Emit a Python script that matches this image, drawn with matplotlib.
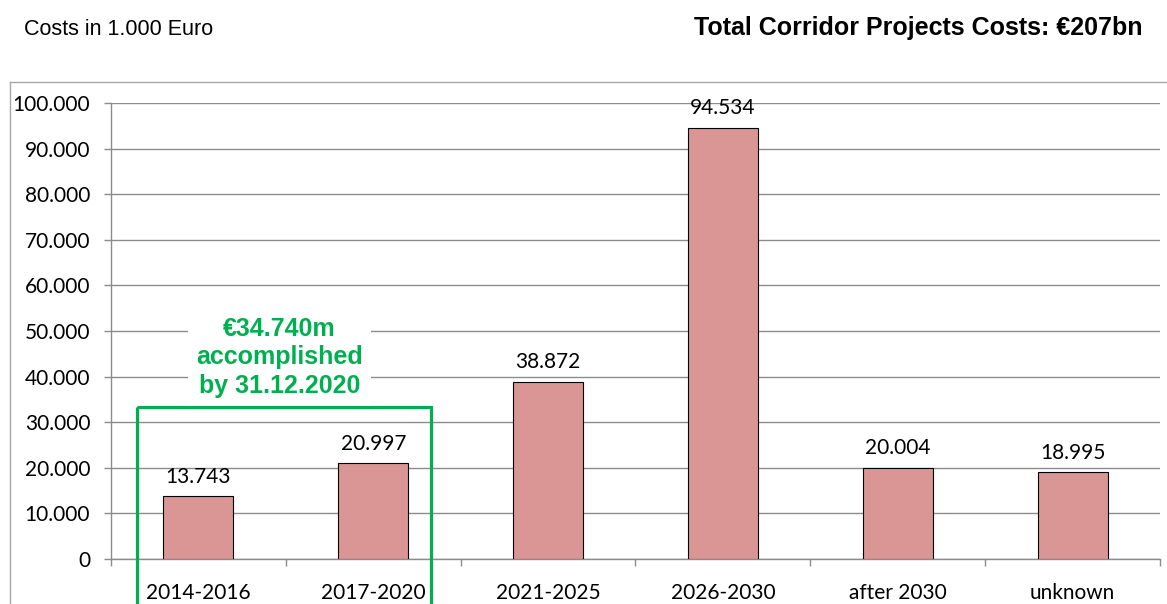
import numpy as np
import matplotlib.pyplot as plt
from matplotlib.patches import Rectangle
from matplotlib.lines import Line2D

# ── data ──────────────────────────────────────────
periods = ['2014-2016', '2017-2020', '2021-2025', '2026-2030', 'after 2030', 'unknown']
costs = [13743, 20997, 38872, 94534, 20004, 18995]
cost_labels = ['13.743', '20.997', '38.872', '94.534', '20.004', '18.995']
y_ticks = [0, 10000, 20000, 30000, 40000, 50000, 60000, 70000, 80000, 90000, 100000]
y_tick_labels = ['0', '10.000', '20.000', '30.000', '40.000', '50.000',
                 '60.000', '70.000', '80.000', '90.000', '100.000']

LABEL_FONT = ['Lato', 'DejaVu Sans']
HEAD_FONT = ['Liberation Sans', 'DejaVu Sans']
GRID = '#8c8c8c'
GREEN = '#00b050'

fig = plt.figure(figsize=(11.67, 6.04), dpi=100)
ax = fig.add_axes([111 / 1167, 1 - 559 / 604, (1160 - 111) / 1167, (559 - 103) / 604])

x = np.arange(len(periods))
ax.bar(x, costs, width=0.4, color='#d99694', edgecolor='black', linewidth=0.8, zorder=3)

for xi, v, lab in zip(x, costs, cost_labels):
    ax.annotate(lab, (xi, v), xytext=(0, 7), textcoords='offset points',
                ha='center', va='bottom', fontsize=15, family=LABEL_FONT)

ax.set_xlim(-0.5, len(periods) - 0.5)
ax.set_ylim(0, 100000)
ax.set_yticks(y_ticks)
ax.set_yticklabels(y_tick_labels, family=LABEL_FONT, fontsize=15)
ax.set_xticks(x)
ax.set_xticklabels(periods, family=LABEL_FONT, fontsize=15)
ax.set_xticks(np.arange(-0.5, len(periods)), minor=True)
ax.tick_params(axis='x', which='major', length=0, pad=17)
ax.tick_params(axis='x', which='minor', length=5, color=GRID, width=1)
ax.tick_params(axis='y', length=5, color=GRID, width=1, pad=10)

ax.yaxis.grid(True, color=GRID, linewidth=1)
ax.set_axisbelow(True)
for side in ['top', 'right']:
    ax.spines[side].set_visible(False)
for side in ['left', 'bottom']:
    ax.spines[side].set_color(GRID)
    ax.spines[side].set_linewidth(1)

# ── green box for accomplished periods ────────────
box = Rectangle((-0.354, 33300), 1.685, -60000, fill=False, edgecolor=GREEN,
                linewidth=2.3, clip_on=False, zorder=5)
ax.add_patch(box)
ax.text(0.465, 44200, '€34.740m\naccomplished\nby 31.12.2020', ha='center', va='center',
        color=GREEN, fontsize=18, fontweight='bold', family=HEAD_FONT,
        linespacing=1.22, zorder=6,
        bbox=dict(facecolor='white', edgecolor='none', pad=6))

# ── outer chart frame ─────────────────────────────
fig.add_artist(Line2D([10 / 1167, 10 / 1167], [1 - 82 / 604, -0.1], color='#a6a6a6', linewidth=1))
fig.add_artist(Line2D([10 / 1167, 1.1], [1 - 82 / 604, 1 - 82 / 604], color='#a6a6a6', linewidth=1))

fig.text(24 / 1167, 1 - 35 / 604, 'Costs in 1.000 Euro', fontsize=15.5, family=HEAD_FONT, va='baseline')
fig.text(1142 / 1167, 1 - 35 / 604, 'Total Corridor Projects Costs: €207bn', fontsize=18,
         fontweight='bold', family=HEAD_FONT, ha='right', va='baseline')

fig.savefig('out.png', dpi=100)
